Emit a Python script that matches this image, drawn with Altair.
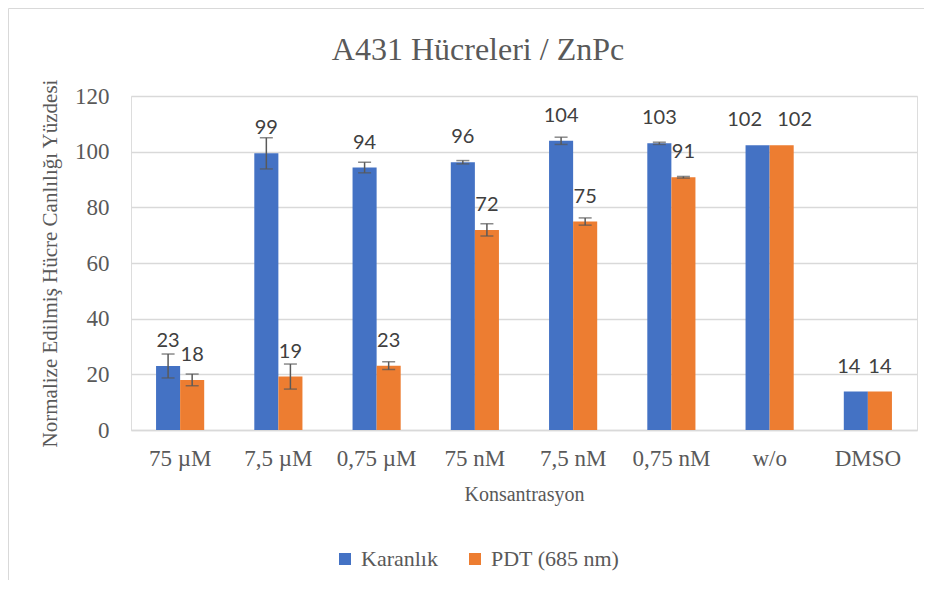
import altair as alt
import pandas as pd

categories = ["75 µM", "7,5 µM", "0,75 µM", "75 nM", "7,5 nM", "0,75 nM", "w/o", "DMSO"]
series = ["Karanlık", "PDT (685 nm)"]
karanlik = [23.0, 99.4, 94.3, 96.2, 103.9, 103.0, 102.3, 13.8]
karanlik_err = [4.3, 5.6, 1.9, 0.6, 1.3, 0.4, 0, 0]
pdt = [18.0, 19.2, 23.1, 71.9, 74.9, 90.8, 102.3, 13.8]
pdt_err = [2.1, 4.5, 1.4, 2.2, 1.3, 0.3, 0, 0]
colors = ["#4472C4", "#ED7D31"]
chart_title = "A431 Hücreleri / ZnPc"
x_title = "Konsantrasyon"
y_title = "Normalize Edilmiş Hücre Canlılığı Yüzdesi"

rows = []
for i, c in enumerate(categories):
    for s, vals, errs in [(series[0], karanlik, karanlik_err), (series[1], pdt, pdt_err)]:
        v = vals[i]
        e = errs[i]
        rows.append({"cat": c, "series": s, "value": v, "err": e,
                     "lo": v - e, "hi": v + e, "label": str(int(round(v)))})
df = pd.DataFrame(rows)

SERIF = "Liberation Serif"
GREY = "#595959"
W, H = 786, 334
PAD_L, PAD_T, PAD_R, PAD_B = 123, 88, 7, 150

x = alt.X("cat:N", sort=categories, title=x_title,
          scale=alt.Scale(paddingInner=0.51, paddingOuter=0.255),
          axis=alt.Axis(labelAngle=0))
xoff = alt.XOffset("series:N", sort=series,
                   scale=alt.Scale(domain=series, paddingInner=0, paddingOuter=0))
yscale = alt.Scale(domain=[0, 120])
yaxis = alt.Axis(values=[0, 20, 40, 60, 80, 100, 120])


def yenc(field):
    return alt.Y(field, scale=yscale, title=y_title, axis=yaxis)


bars = alt.Chart(df).mark_bar().encode(
    x=x, xOffset=xoff, y=yenc("value:Q"),
    color=alt.Color("series:N", sort=series,
                    scale=alt.Scale(domain=series, range=colors),
                    legend=alt.Legend(title=None, orient="none", legendX=203, legendY=452,
                                      direction="horizontal")),
)

edf = df[df["err"] > 0]
err = alt.Chart(edf).mark_rule(color=GREY, strokeWidth=1.5).encode(
    x=x, xOffset=xoff, y=yenc("lo:Q"), y2="hi:Q")
cap_lo = alt.Chart(edf).mark_tick(orient="horizontal", size=13, thickness=1.5, color=GREY).encode(
    x=x, xOffset=xoff, y=yenc("lo:Q"))
cap_hi = alt.Chart(edf).mark_tick(orient="horizontal", size=13, thickness=1.5, color=GREY).encode(
    x=x, xOffset=xoff, y=yenc("hi:Q"))

label_style = dict(font="Lato", fontSize=20, color="#404040", baseline="middle", dy=-25)
normal = df[~df["cat"].isin(["w/o", "DMSO"])]
labels = alt.Chart(normal).mark_text(**label_style).encode(
    x=x, xOffset=xoff, y=yenc("value:Q"), text="label:N")

# labels that are nudged sideways so that they do not overlap
wo_k = df[(df["cat"] == "w/o") & (df["series"] == series[0])]
wo_p = df[(df["cat"] == "w/o") & (df["series"] == series[1])]
dm_k = df[(df["cat"] == "DMSO") & (df["series"] == series[0])]
dm_p = df[(df["cat"] == "DMSO") & (df["series"] == series[1])]
lab_wo_k = alt.Chart(wo_k).mark_text(dx=-13, **label_style).encode(
    x=x, xOffset=xoff, y=yenc("value:Q"), text="label:N")
lab_wo_p = alt.Chart(wo_p).mark_text(dx=13, **label_style).encode(
    x=x, xOffset=xoff, y=yenc("value:Q"), text="label:N")
lab_dm_k = alt.Chart(dm_k).mark_text(dx=-7, **label_style).encode(
    x=x, xOffset=xoff, y=yenc("value:Q"), text="label:N")
lab_dm_p = alt.Chart(dm_p).mark_text(**label_style).encode(
    x=x, xOffset=xoff, y=yenc("value:Q"), text="label:N")

one = pd.DataFrame({"t": [chart_title]})
title = alt.Chart(one).mark_text(font=SERIF, fontSize=32, color=GREY, align="center",
                                 baseline="alphabetic").encode(
    x=alt.value(347), y=alt.value(-36), text="t:N")
border_left = alt.Chart(one).mark_rule(color="#D9D9D9", strokeWidth=1).encode(
    x=alt.value(-PAD_L + 0.5), y=alt.value(-PAD_T + 0.5), y2=alt.value(H + PAD_B))
border_top = alt.Chart(one).mark_rule(color="#D9D9D9", strokeWidth=1).encode(
    x=alt.value(-PAD_L + 0.5), x2=alt.value(W + PAD_R), y=alt.value(-PAD_T + 0.5))

chart = alt.layer(bars, err, cap_lo, cap_hi, labels, lab_wo_k, lab_wo_p, lab_dm_k, lab_dm_p,
                  title, border_left, border_top).properties(
    width=W, height=H,
    autosize=alt.AutoSizeParams(type="none"),
    padding={"left": PAD_L, "top": PAD_T, "right": PAD_R, "bottom": PAD_B},
).configure_view(stroke=None).configure(background="white", font=SERIF).configure_axis(
    labelFont=SERIF, titleFont=SERIF, labelColor=GREY, titleColor=GREY,
    titleFontWeight="normal", ticks=False,
).configure_axisX(
    domainColor="#D9D9D9", domainWidth=1.5, labelFontSize=23, labelPadding=17,
    titleFontSize=20, titlePadding=14, grid=False,
).configure_axisY(
    domain=False, gridColor="#D9D9D9", gridWidth=1.5, labelFontSize=23, labelPadding=22,
    titleFontSize=21, titlePadding=14,
).configure_legend(
    labelFont=SERIF, labelFontSize=22, labelColor=GREY, symbolType="square",
    symbolSize=144, symbolStrokeWidth=0, labelOffset=5, columnPadding=26,
)

chart.save("out.html", embed_options={"renderer": "svg", "actions": False})
